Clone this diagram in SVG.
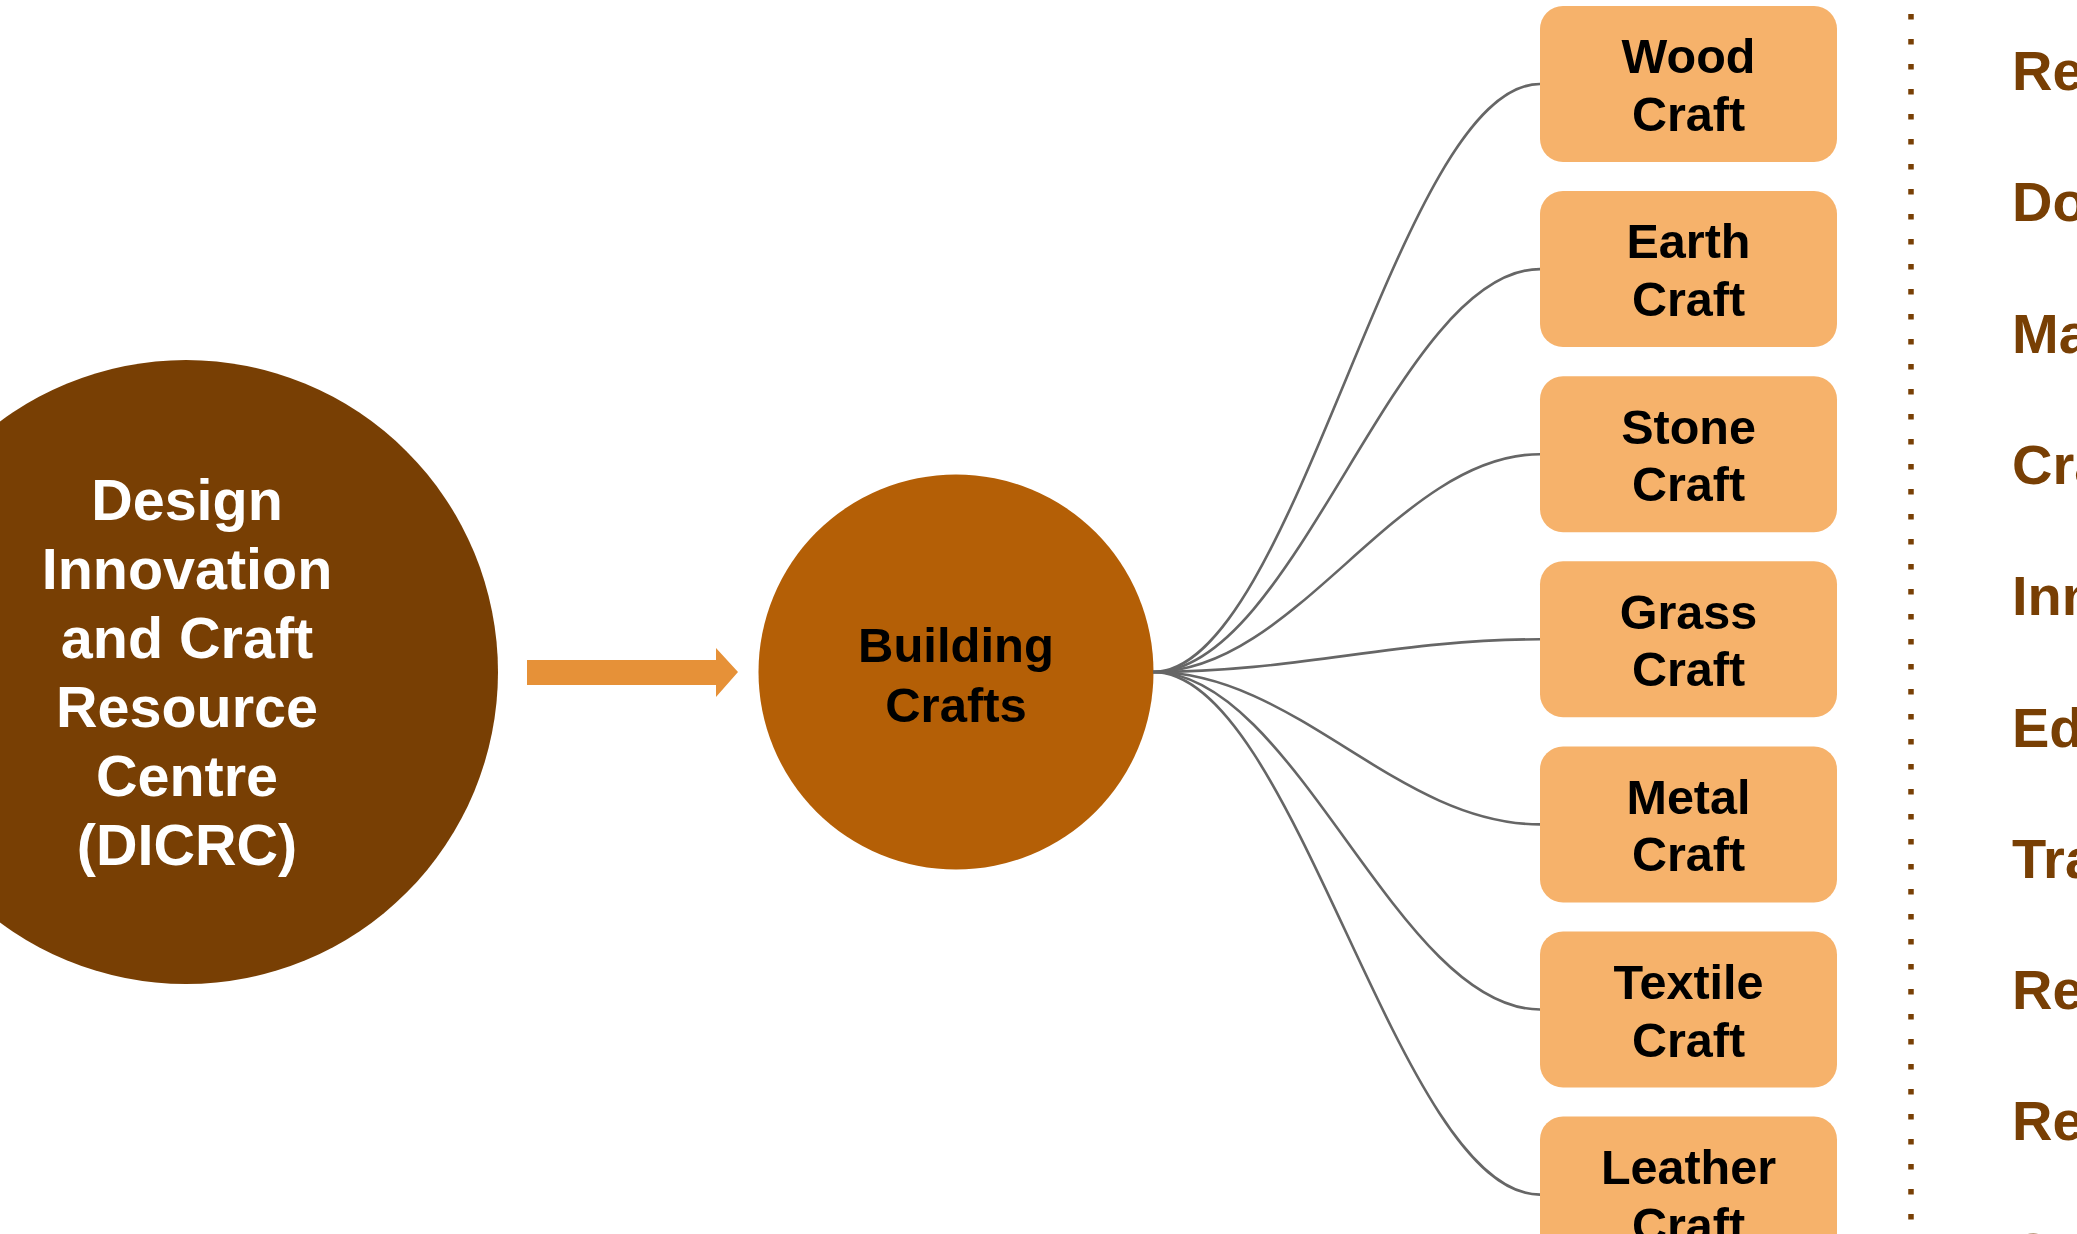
<svg xmlns="http://www.w3.org/2000/svg" width="2077" height="1234" viewBox="0 0 2077 1234">
  <style>
    text { font-family: "Liberation Sans", Arial, sans-serif; font-weight: bold; }
    .main { fill: #FFFFFF; font-size: 57.5px; text-anchor: middle; }
    .mid { fill: #000000; font-size: 49px; text-anchor: middle; }
    .box rect { fill: #F6B26B; }
    .box text { fill: #000000; font-size: 48.5px; text-anchor: middle; }
    .side { fill: #783F04; font-size: 56px; }
    .conn path { fill: none; stroke: #666666; stroke-width: 2.6; }
  </style>
  <rect x="0" y="0" width="2077" height="1234" fill="#FFFFFF"/>

  <g id="dicrc">
    <circle cx="186" cy="672" r="312" fill="#783F04"/>
    <text class="main" x="187" y="520">Design</text>
    <text class="main" x="187" y="589">Innovation</text>
    <text class="main" x="187" y="658">and Craft</text>
    <text class="main" x="187" y="727">Resource</text>
    <text class="main" x="187" y="796">Centre</text>
    <text class="main" x="187" y="865">(DICRC)</text>
  </g>

  <g id="arrow">
    <polygon points="527,660 716,660 716,648 738,672 716,697 716,685 527,685" fill="#E69138"/>
  </g>

  <g id="building-crafts">
    <circle cx="956" cy="672" r="197.5" fill="#B45F06"/>
    <text class="mid" x="956" y="662">Building</text>
    <text class="mid" x="956" y="722">Crafts</text>
  </g>

  <g id="connectors" class="conn">
    <path d="M1153,672 C1296,672 1397,84 1540,84"/>
    <path d="M1153,672 C1296,672 1397,269.1 1540,269.1"/>
    <path d="M1153,672 C1296,672 1397,454.2 1540,454.2"/>
    <path d="M1153,672 C1296,672 1397,639.3 1540,639.3"/>
    <path d="M1153,672 C1296,672 1397,824.4 1540,824.4"/>
    <path d="M1153,672 C1296,672 1397,1009.5 1540,1009.5"/>
    <path d="M1153,672 C1296,672 1397,1194.6 1540,1194.6"/>
  </g>

  <g id="wood-craft" class="box">
    <rect x="1540" y="6" width="297" height="156" rx="23"/>
    <text x="1688.5" y="73.3">Wood</text>
    <text x="1688.5" y="131">Craft</text>
  </g>
  <g id="earth-craft" class="box">
    <rect x="1540" y="191.1" width="297" height="156" rx="23"/>
    <text x="1688.5" y="258.4">Earth</text>
    <text x="1688.5" y="316.1">Craft</text>
  </g>
  <g id="stone-craft" class="box">
    <rect x="1540" y="376.2" width="297" height="156" rx="23"/>
    <text x="1688.5" y="443.5">Stone</text>
    <text x="1688.5" y="501.2">Craft</text>
  </g>
  <g id="grass-craft" class="box">
    <rect x="1540" y="561.3" width="297" height="156" rx="23"/>
    <text x="1688.5" y="628.6">Grass</text>
    <text x="1688.5" y="686.3">Craft</text>
  </g>
  <g id="metal-craft" class="box">
    <rect x="1540" y="746.4" width="297" height="156" rx="23"/>
    <text x="1688.5" y="813.7">Metal</text>
    <text x="1688.5" y="871.4">Craft</text>
  </g>
  <g id="textile-craft" class="box">
    <rect x="1540" y="931.5" width="297" height="156" rx="23"/>
    <text x="1688.5" y="998.8">Textile</text>
    <text x="1688.5" y="1056.5">Craft</text>
  </g>
  <g id="leather-craft" class="box">
    <rect x="1540" y="1116.6" width="297" height="156" rx="23"/>
    <text x="1688.5" y="1183.9">Leather</text>
    <text x="1688.5" y="1241.6">Craft</text>
  </g>

  <g id="divider">
    <line x1="1911" y1="14" x2="1911" y2="1234" stroke="#783F04" stroke-width="5.5" stroke-dasharray="5.5 19.5"/>
  </g>

  <g id="side-labels" class="side">
    <text x="2012" y="90">Re</text>
    <text x="2012" y="221.3">Do</text>
    <text x="2012" y="352.6">Ma</text>
    <text x="2012" y="483.9">Cra</text>
    <text x="2012" y="615.2">Inn</text>
    <text x="2012" y="746.5">Ed</text>
    <text x="2012" y="877.8">Tra</text>
    <text x="2012" y="1009.1">Re</text>
    <text x="2012" y="1140.4">Re</text>
    <text x="2012" y="1271.7">C</text>
  </g>
</svg>
